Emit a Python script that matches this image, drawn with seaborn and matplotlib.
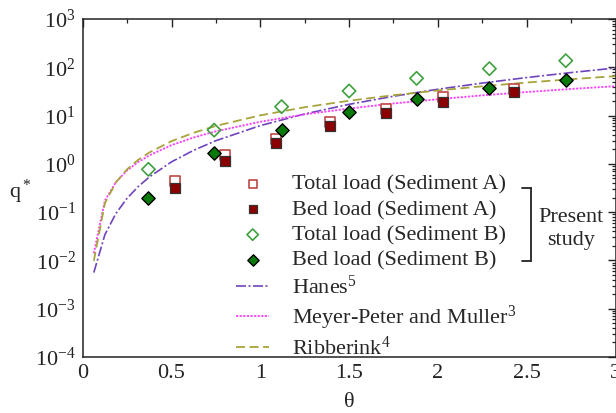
import numpy as np
import pandas as pd
import matplotlib
matplotlib.use("Agg")
import matplotlib.pyplot as plt
from matplotlib.lines import Line2D
import seaborn as sns

# ---------------- data ----------------
theta_total_A = [0.52, 0.80, 1.09, 1.39, 1.71, 2.03, 2.43]
q_total_A     = [0.44, 1.50, 3.30, 7.50, 13.5, 24.0, 36.0]
theta_bed_A   = [0.52, 0.80, 1.09, 1.39, 1.71, 2.03, 2.43]
q_bed_A       = [0.31, 1.13, 2.67, 6.20, 11.2, 19.4, 30.8]
theta_total_B = [0.37, 0.74, 1.12, 1.50, 1.88, 2.29, 2.72]
q_total_B     = [0.77, 5.00, 15.3, 32.3, 59.0, 93.6, 137.0]
theta_bed_B   = [0.37, 0.74, 1.12, 1.50, 1.88, 2.29, 2.72]
q_bed_B       = [0.20, 1.66, 5.00, 11.7, 22.0, 36.7, 55.0]

theta_curve = [0.0625, 0.125, 0.1875, 0.25, 0.3125, 0.375, 0.5, 0.625, 0.75,
               1.0, 1.25, 1.5, 1.75, 2.0, 2.25, 2.5, 2.75, 3.0]
q_hanes = [0.0056, 0.0342, 0.0944, 0.194, 0.338, 0.534, 1.10, 1.91, 3.02,
           6.2, 10.8, 17.1, 25.1, 35.1, 47.1, 61.3, 77.8, 96.6]
q_mpm   = [0.0140, 0.174, 0.421, 0.732, 1.09, 1.50, 2.44, 3.52, 4.72,
           7.44, 10.6, 14.0, 17.8, 21.8, 26.2, 30.7, 35.6, 40.6]
q_rib   = [0.0098, 0.153, 0.417, 0.772, 1.21, 1.72, 2.95, 4.41, 6.11,
           10.1, 14.9, 20.3, 26.4, 33.1, 40.4, 48.3, 56.6, 65.6]

labels_pts = ["Total load (Sediment A)", "Bed load (Sediment A)",
              "Total load (Sediment B)", "Bed load (Sediment B)"]
labels_lines = ["Hanes$^5$", "Meyer-Peter and Muller$^3$", "Ribberink$^4$"]

# ---------------- style ----------------
sns.set_theme(style="white")
plt.rcParams["font.family"] = ["Liberation Serif", "DejaVu Serif"]
plt.rcParams["mathtext.fontset"] = "custom"
plt.rcParams["mathtext.rm"] = "Liberation Serif"
plt.rcParams["mathtext.it"] = "Liberation Serif:italic"
plt.rcParams["mathtext.default"] = "rm"

fig = plt.figure(figsize=(6.16, 4.13), dpi=100)
ax = fig.add_axes([82.7/616, 1-357/413, (615.5-82.7)/616, (357-19)/413])

curves = pd.DataFrame({"theta": theta_curve, "Hanes": q_hanes,
                       "MPM": q_mpm, "Rib": q_rib})
sns.lineplot(data=curves, x="theta", y="Hanes", ax=ax, color="#7044bc",
             lw=1.2, linestyle=(0, (6, 1.5, 1.2, 1.5)), label=labels_lines[0],
             zorder=2, sort=False, estimator=None)
sns.lineplot(data=curves, x="theta", y="MPM", ax=ax, color="#ff40ff",
             lw=1.3, linestyle=(0, (1.2, 0.8)), label=labels_lines[1],
             zorder=2, sort=False, estimator=None)
sns.lineplot(data=curves, x="theta", y="Rib", ax=ax, color="#a8a43c",
             lw=1.3, linestyle=(0, (5, 2.5)), label=labels_lines[2],
             zorder=2, sort=False, estimator=None)

sns.scatterplot(x=theta_total_A, y=q_total_A, ax=ax, marker="s", s=52,
                facecolor="white", edgecolor="#c04848", linewidth=1.2,
                label=labels_pts[0], zorder=3)
sns.scatterplot(x=theta_bed_A, y=q_bed_A, ax=ax, marker="s", s=52,
                facecolor="#8b0000", edgecolor="#333333", linewidth=0.9,
                label=labels_pts[1], zorder=4)
sns.scatterplot(x=theta_total_B, y=q_total_B, ax=ax, marker="D", s=46,
                facecolor="none", edgecolor="#3fa03f", linewidth=1.2,
                label=labels_pts[2], zorder=3)
sns.scatterplot(x=theta_bed_B, y=q_bed_B, ax=ax, marker="D", s=46,
                facecolor="#0a7a0a", edgecolor="black", linewidth=1.0,
                label=labels_pts[3], zorder=4)

ax.set_yscale("log")
ax.set_xlim(0, 3)
ax.set_ylim(1e-4, 1e3)
ax.set_xticks([0, 0.5, 1, 1.5, 2, 2.5, 3])
ax.set_xticklabels(["0", "0.5", "1", "1.5", "2", "2.5", "3"])
ax.set_xticks(np.arange(0.25, 3, 0.5), minor=True)
ax.yaxis.set_major_locator(matplotlib.ticker.LogLocator(base=10, numticks=20))
ax.yaxis.set_minor_locator(matplotlib.ticker.LogLocator(base=10, subs=np.arange(2, 10), numticks=20))
ax.yaxis.set_minor_formatter(matplotlib.ticker.NullFormatter())
ax.tick_params(which="both", direction="in", top=True, right=True,
               labelsize=16, colors="#222222")
ax.tick_params(which="major", length=5.8, width=1.0, pad=5)
ax.tick_params(which="minor", length=3.2, width=0.9)
for sp in ax.spines.values():
    sp.set_color("#222222")
    sp.set_linewidth(1.1)

ax.set_xlabel("θ", fontsize=16, labelpad=7)
ax.set_ylabel("q$^*$", fontsize=16, rotation=0, va="center", ha="center")
ax.yaxis.set_label_coords(-0.117, 0.487)

handles, labs = ax.get_legend_handles_labels()
order = labels_pts + labels_lines
hmap = dict(zip(labs, handles))
leg = ax.legend([hmap[l] for l in order], order, loc="upper left",
                bbox_to_anchor=(236/616, 1-174/413), bbox_transform=fig.transFigure,
                frameon=False, fontsize=16, handlelength=1.5, handletextpad=1.0,
                labelspacing=0.22, borderpad=0, borderaxespad=0, markerscale=0.85)

# "Present study" bracket
bx = 531/616
yt, yb = 1-188/413, 1-261/413
fig.add_artist(Line2D([bx, bx], [yt, yb], transform=fig.transFigure, color="#222222", lw=1.3))
fig.add_artist(Line2D([522/616, bx], [yt, yt], transform=fig.transFigure, color="#222222", lw=1.3))
fig.add_artist(Line2D([522/616, bx], [yb, yb], transform=fig.transFigure, color="#222222", lw=1.3))
fig.text(571/616, 1-217/413, "Present", ha="center", va="center", fontsize=16)
fig.text(571/616, 1-241/413, "study", ha="center", va="center", fontsize=16)

fig.savefig("out.png", dpi=100)
